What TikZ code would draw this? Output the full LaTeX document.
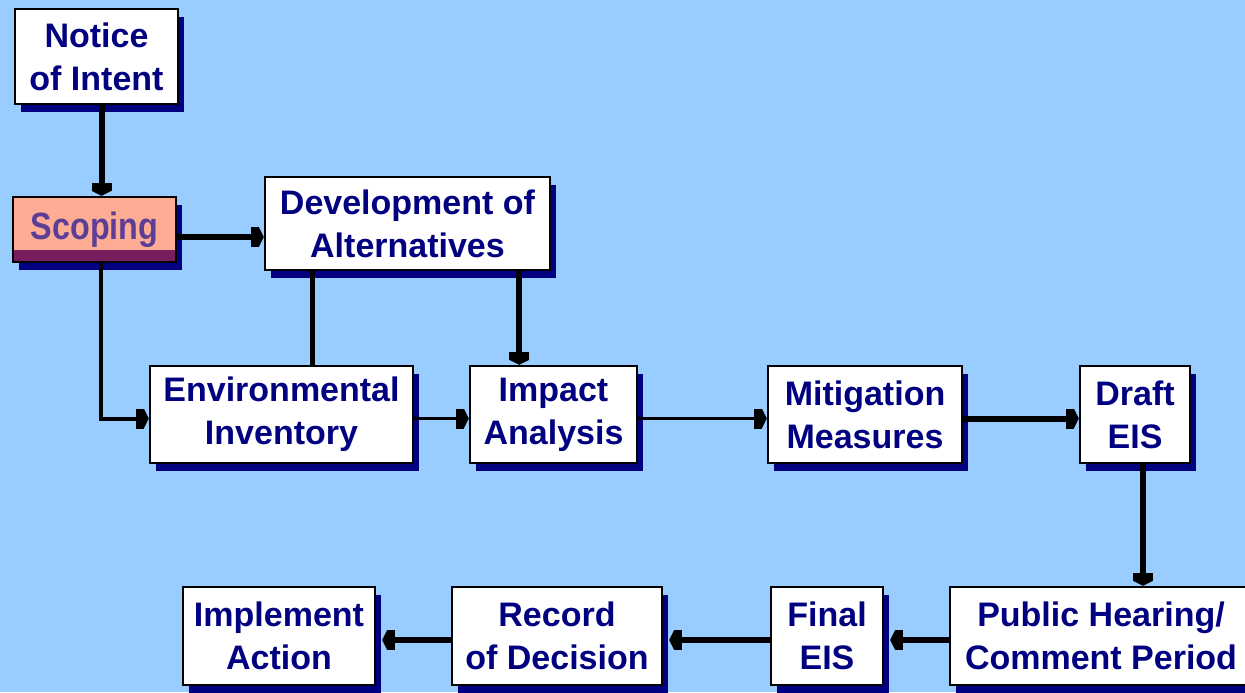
\documentclass[tikz,border=0pt]{standalone}
\usepackage{fontspec}
\setsansfont{Liberation Sans}
\newfontfamily\narrowsans[FakeStretch=0.85]{Liberation Sans}
\usetikzlibrary{arrows.meta,shadows}

\definecolor{skyback}{RGB}{153,204,255}
\definecolor{boxnavy}{RGB}{0,0,128}
\definecolor{scopefill}{RGB}{255,172,148}
\definecolor{scopeband}{RGB}{120,30,95}
\definecolor{scopetext}{RGB}{92,62,150}

\begin{document}
\begin{tikzpicture}[x=0.5pt, y=-0.5pt,
	stage/.style = {draw = black, line width = 1.2pt, fill = white, align = center, inner sep = 0pt,
		text = boxnavy, font = \sffamily\bfseries\fontsize{17}{21.5}\selectfont,
		drop shadow = {shadow xshift = 3pt, shadow yshift = -4pt, fill = boxnavy, opacity = 1}},
	blocktip/.style = {-{Rectangle[length = 4pt, width = 10pt] Triangle[length = 2.5pt, width = 10pt]}},
	bigflow/.style = {line width = 3pt, blocktip},
	midflow/.style = {line width = 2pt, blocktip},
	thinflow/.style = {line width = 1.5pt, blocktip},
	leftflow/.style = {bigflow, shorten > = 3pt}]

	% Background

	\fill [skyback] (0, 0) rectangle (1245, 692);
	\useasboundingbox (0, 0) rectangle (1245, 692);
	\clip (0, 0) rectangle (1245, 692);

	% Stages

	\node [stage, minimum width = 81.5pt, minimum height = 47.5pt] (notice) at (96.5, 56.5) {Notice\\of Intent};
	\node [stage, fill = scopefill, text = scopetext, minimum width = 81.5pt, minimum height = 32.5pt,
		font = \narrowsans\bfseries\fontsize{19}{22}\selectfont,
		path picture = {\fill [scopeband] ([yshift = 6pt] path picture bounding box.south west) rectangle (path picture bounding box.south east);}]
		(scoping) at (94.5, 229.5) {Scoping};
	\node [stage, minimum width = 142.5pt, minimum height = 46.5pt] (develop) at (407.5, 223.5) {Development of\\Alternatives};

	\node [stage, minimum width = 131.5pt, minimum height = 48.5pt] (envinv) at (281.5, 414.5) {Environmental\\Inventory};
	\node [stage, minimum width = 83.5pt, minimum height = 48.5pt] (impact) at (553.5, 414.5) {Impact\\Analysis};
	\node [stage, minimum width = 97pt, minimum height = 48.5pt] (mitig) at (865, 414.5) {Mitigation\\Measures};
	\node [stage, minimum width = 55pt, minimum height = 48.5pt] (draft) at (1135, 414.5) {Draft\\EIS};

	\node [stage, minimum width = 151pt, minimum height = 49pt] (public) at (1101, 636) {Public Hearing/\\Comment Period};
	\node [stage, minimum width = 56pt, minimum height = 49pt] (final) at (827, 636) {Final\\EIS};
	\node [stage, minimum width = 105pt, minimum height = 49pt] (record) at (557, 636) {Record\\of Decision};
	\node [stage, minimum width = 96pt, minimum height = 49pt] (implement) at (279, 636) {Implement\\Action};

	% Flow

	\draw [bigflow] ([xshift = 2.5pt] notice.south) -- ([xshift = 2.5pt] notice.south |- scoping.north);
	\draw [bigflow] ([yshift = -3.75pt] scoping.east) -- ([yshift = -3.75pt] scoping.east -| develop.west);
	\draw [midflow] ([xshift = 3pt] scoping.south) |- ([yshift = -2pt] envinv.west);
	\draw [line width = 2.5pt] ([xshift = 24.5pt] develop.south west) -- ([xshift = 24.5pt] develop.south west |- envinv.north);
	\draw [bigflow] ([xshift = -16pt] develop.south east) -- ([xshift = -16pt] develop.south east |- impact.north);

	\draw [thinflow] ([yshift = -2pt] envinv.east) -- ([yshift = -2pt] impact.west);
	\draw [thinflow] ([yshift = -2pt] impact.east) -- ([yshift = -2pt] mitig.west);
	\draw [bigflow] ([yshift = -2pt] mitig.east) -- ([yshift = -2pt] draft.west);
	\draw [bigflow] ([xshift = 4pt] draft.south) -- ([xshift = 4pt] draft.south |- public.north);

	\draw [leftflow] ([yshift = -2pt] public.west) -- ([yshift = -2pt] final.east);
	\draw [leftflow] ([yshift = -2pt] final.west) -- ([yshift = -2pt] record.east);
	\draw [leftflow] ([yshift = -2pt] record.west) -- ([yshift = -2pt] implement.east);

\end{tikzpicture}
\end{document}
